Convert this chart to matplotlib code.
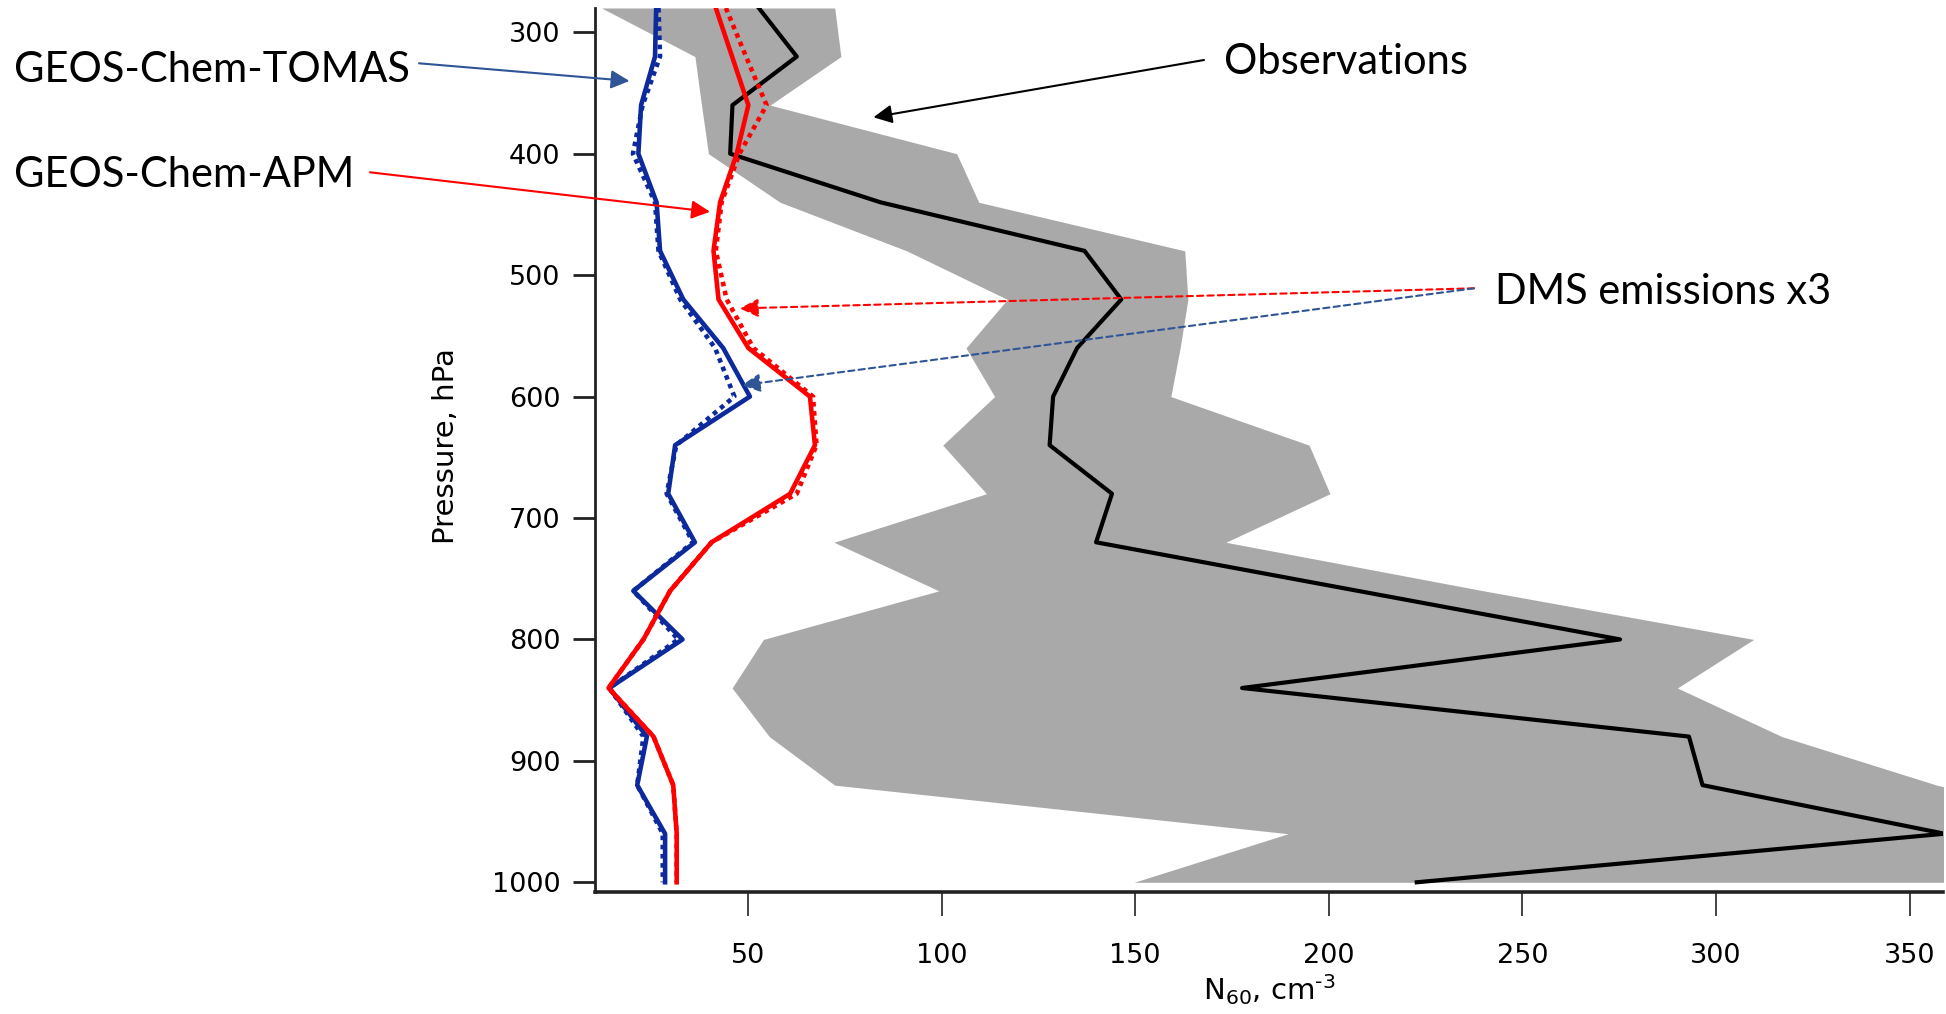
import matplotlib
matplotlib.use("Agg")
import matplotlib.pyplot as plt

# ---- vertical profiles of N60 (cm^-3) versus pressure (hPa) ----
pressure = [280, 320, 360, 400, 440, 480, 520, 560, 600, 640,
            680, 720, 760, 800, 840, 880, 920, 960, 1000]

obs_mean = [52.8, 62.6, 46.0, 45.4, 84.2, 136.9, 146.4, 135.0, 128.8, 127.9,
            144.0, 139.9, 207.5, 275.2, 177.6, 293.0, 296.5, 359.0, 222.7]
obs_low = [12.2, 36.3, 38.0, 39.8, 58.3, 91.0, 117.0, 106.3, 113.7, 100.3,
           111.6, 72.2, 99.3, 54.0, 45.9, 55.5, 72.4, 189.5, 149.7]
obs_high = [72.4, 74.0, 55.7, 103.9, 109.6, 162.8, 163.6, 161.6, 159.2, 194.9,
            200.3, 173.4, 240.0, 309.7, 290.0, 317.0, 357.0, 410.0, 410.0]

tomas = [26.3, 26.0, 22.4, 21.7, 26.4, 27.3, 33.3, 43.6, 50.5, 31.2,
         29.4, 36.3, 20.4, 33.1, 14.2, 23.9, 21.4, 28.6, 28.6]
tomas_dms3 = [26.9, 27.3, 22.8, 20.3, 26.0, 26.9, 32.5, 41.5, 46.5, 31.5,
              29.0, 35.8, 20.4, 32.0, 14.2, 23.0, 21.4, 28.0, 28.0]

apm = [41.7, 45.9, 50.1, 47.1, 42.8, 41.1, 42.4, 50.1, 66.0, 67.3,
       60.9, 40.6, 29.9, 23.0, 14.0, 25.6, 30.7, 31.6, 31.6]
apm_dms3 = [44.3, 49.5, 54.8, 47.8, 43.2, 41.7, 44.5, 51.4, 66.8, 67.7,
            62.6, 40.6, 29.9, 23.0, 14.0, 25.6, 30.7, 31.6, 31.6]

x_ticks = [50, 100, 150, 200, 250, 300, 350]
y_ticks = [300, 400, 500, 600, 700, 800, 900, 1000]

BLUE = "#0D2A9C"
RED = "#FF0000"
GREY = "#A9A9A9"
NOTE_BLUE = "#2F5597"

plt.rcParams["font.family"] = ["DejaVu Sans"]
plt.rcParams["mathtext.fontset"] = "dejavusans"

W, H, DPI = 1946, 1014, 100
fig = plt.figure(figsize=(W / DPI, H / DPI), dpi=DPI)
ax = fig.add_axes([595 / W, 1 - 892 / H, (1943 - 595) / W, (892 - 8) / H])

# observed range and mean
ax.fill_betweenx(pressure, obs_low, obs_high, color=GREY, lw=0, zorder=1)
ax.plot(obs_mean, pressure, color="black", lw=3.0, zorder=3)

# model profiles: solid = base run, dotted = DMS emissions x3
dots = (0, (1, 1))
ax.plot(tomas_dms3, pressure, color=BLUE, lw=3.3, ls=dots, zorder=4)
ax.plot(tomas, pressure, color=BLUE, lw=3.3, zorder=5)
ax.plot(apm_dms3, pressure, color=RED, lw=3.3, ls=dots, zorder=6)
ax.plot(apm, pressure, color=RED, lw=3.3, zorder=7)

ax.set_xlim(10.5, 358.6)
ax.set_ylim(1008, 280)
ax.set_xticks(x_ticks)
ax.set_yticks(y_ticks)

for side in ("top", "right"):
    ax.spines[side].set_visible(False)
ax.spines["left"].set_linewidth(2.0)
ax.spines["left"].set_color("#222222")
ax.spines["bottom"].set_linewidth(2.6)
ax.spines["bottom"].set_color("#222222")

ax.tick_params(axis="x", direction="out", length=17, width=1.2, pad=20,
               labelsize=19.5, color="#222222")
ax.tick_params(axis="y", direction="out", length=16, width=2.0, pad=9,
               labelsize=19.5, color="#222222")

ax.set_xlabel(r"N$_{60}$, cm$^{\text{-}3}$", fontsize=21)
ax.xaxis.set_label_coords(0.5, -0.0905)
ax.set_ylabel("Pressure, hPa", fontsize=21)
ax.yaxis.set_label_coords(-0.1, 0.504)

# ---- labels with pointer arrows ----
note_font = ["Lato", "DejaVu Sans"]
NOTE_SIZE = 30


def px(x, y):
    """Figure pixel position measured from the top-left corner."""
    return (x, H - y)


def pointer(tip, start, color, dashed=False):
    props = dict(arrowstyle="-|>", color=color, lw=1.5, mutation_scale=28,
                 shrinkA=0, shrinkB=0)
    if dashed:
        props["linestyle"] = (0, (3, 2))
    ax.annotate("", xy=tip, xycoords="data", xytext=px(*start),
                textcoords="figure pixels", arrowprops=props,
                annotation_clip=False, zorder=10)


fig.text(13.8 / W, 1 - 81.7 / H, "GEOS-Chem-TOMAS", fontsize=NOTE_SIZE,
         family=note_font, ha="left", va="baseline")
fig.text(13.8 / W, 1 - 186.7 / H, "GEOS-Chem-APM", fontsize=NOTE_SIZE,
         family=note_font, ha="left", va="baseline")
fig.text(1224.5 / W, 1 - 74 / H, "Observations", fontsize=NOTE_SIZE,
         family=note_font, ha="left", va="baseline")
fig.text(1495 / W, 1 - 304 / H, "DMS emissions x3", fontsize=NOTE_SIZE,
         family=note_font, ha="left", va="baseline")

pointer((19.4, 340.1), (419, 63.3), NOTE_BLUE)
pointer((40.2, 447.8), (370, 172.3), RED)
pointer((82.4, 370.0), (1204, 60), "black")
pointer((47.9, 527.4), (1474, 288.3), RED, dashed=True)
pointer((48.4, 590.7), (1474, 288.3), NOTE_BLUE, dashed=True)

fig.savefig("out.png", dpi=DPI)
